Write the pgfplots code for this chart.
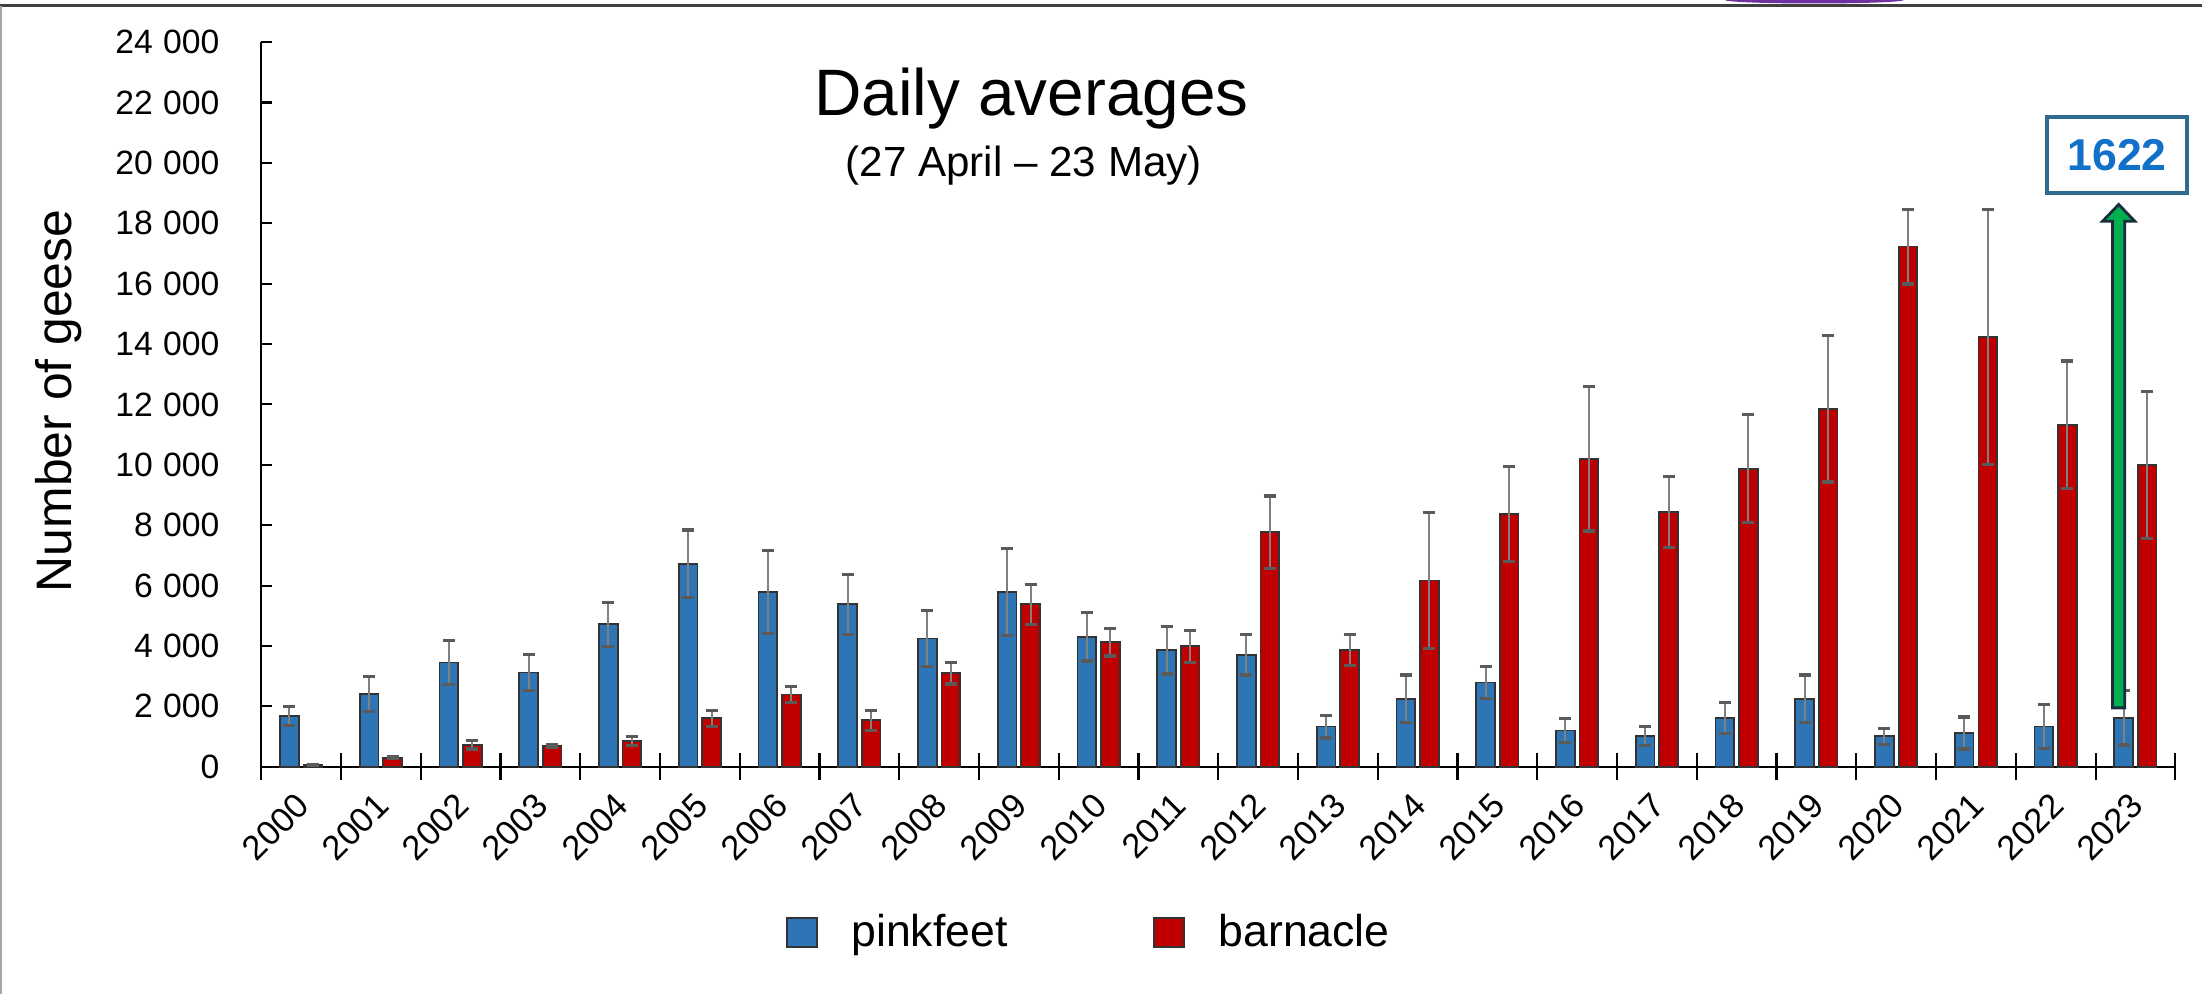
\documentclass[border=0pt]{standalone}
\usepackage{pgfplots}
\usepackage{pgfplotstable}
\pgfplotsset{compat=1.18}
\usepackage{fontspec}
\setmainfont{Liberation Sans}
\definecolor{pfblue}{RGB}{46,117,182}
\definecolor{bared}{RGB}{192,0,0}
\definecolor{errgray}{RGB}{128,128,128}
\definecolor{capgray}{RGB}{90,90,90}
\definecolor{boxblue}{RGB}{47,107,142}
\definecolor{numblue}{RGB}{17,112,200}
\definecolor{arrowgreen}{RGB}{0,176,80}
\definecolor{arrowdark}{RGB}{25,45,60}
\definecolor{purplec}{RGB}{112,48,160}
\newcommand{\ts}{\hspace{0.3em}}

\pgfplotstableread{
x p pe b be
0 1680 320 50 20
1 2400 580 300 40
2 3450 735 730 140
3 3120 590 690 60
4 4720 725 845 150
5 6720 1120 1610 265
6 5790 1380 2390 260
7 5380 1000 1540 335
8 4250 930 3100 360
9 5790 1450 5380 670
10 4310 810 4120 450
11 3860 790 3990 530
12 3710 670 7770 1200
13 1330 380 3860 510
14 2250 790 6170 2260
15 2790 520 8380 1570
16 1200 395 10200 2390
17 1010 310 8440 1170
18 1610 510 9870 1790
19 2250 790 11860 2430
20 1010 260 17230 1240
21 1120 530 14235 4235
22 1330 720 11330 2110
23 1622 900 10000 2430
}\geese

\begin{document}
\begin{tikzpicture}
\path[use as bounding box] (0,0) rectangle (627.2pt,283.2pt);
\fill[white] (0,0) rectangle (627.2pt,283.2pt);
\begin{axis}[
  at={(74.4pt,64.8pt)}, anchor=south west,
  scale only axis, width=545.2pt, height=206.4pt,
  ybar=1.4pt, bar width=5.3pt,
  xmin=-0.5, xmax=23.5, ymin=0, ymax=24000,
  axis x line=bottom, axis y line=left,
  axis line style={-, black, line width=0.6pt},
  clip=false,
  scaled y ticks=false,
  xtick={0,...,23},
  xticklabels={2000,2001,2002,2003,2004,2005,2006,2007,2008,2009,2010,2011,2012,2013,2014,2015,2016,2017,2018,2019,2020,2021,2022,2023},
  minor xtick={-0.5,0.5,...,23.5},
  major x tick style={draw=none},
  minor x tick style={black, line width=0.6pt},
  minor tick length=7.6pt,
  xtick align=center,
  ytick={0,2000,...,24000},
  yticklabels={0,2\ts000,4\ts000,6\ts000,8\ts000,10\ts000,12\ts000,14\ts000,16\ts000,18\ts000,20\ts000,22\ts000,24\ts000},
  ytick align=inside, major tick length=3pt,
  y tick style={black, line width=0.6pt},
  /pgf/number format/assume math mode=true,
  xticklabel style={rotate=45, anchor=north east, font=\fontsize{9.8}{11}\selectfont, yshift=1.1pt, xshift=-1.7pt},
  yticklabel style={font=\fontsize{9.6}{11}\selectfont, xshift=-8.4pt},
  ylabel={Number of geese},
  ylabel style={at={(axis description cs:-0.106,0.505)}, anchor=center, font=\fontsize{14.2}{16}\selectfont},
  legend style={at={(axis description cs:0.2737,-0.2287)}, anchor=west, draw=none, fill=none, inner sep=0pt,
    font=\fontsize{12.7}{15}\selectfont, /tikz/every even column/.append style={column sep=39.4pt}},
  legend columns=2,
  legend cell align=left,
]
\addplot[fill=pfblue, draw=black!80, line width=0.5pt,
  legend image code/.code={\draw[fill=pfblue, draw=black!80, line width=0.6pt] (0pt,-4.25pt) rectangle (8.5pt,4.25pt); \path[draw=none, fill=none] (0pt,0pt) -- (16.4pt,0pt);},
  error bars/.cd, y dir=both, y explicit,
  error bar style={errgray, line width=0.55pt},
  error mark options={rotate=90, mark size=1.7pt, line width=0.9pt, draw=capgray}]
  table[x=x, y=p, y error=pe] {\geese};
\addlegendentry{pinkfeet}
\addplot[fill=bared, draw=black!80, line width=0.5pt,
  legend image code/.code={\draw[fill=bared, draw=black!80, line width=0.6pt] (0pt,-4.25pt) rectangle (8.5pt,4.25pt); \path[draw=none, fill=none] (0pt,0pt) -- (16.4pt,0pt);},
  error bars/.cd, y dir=both, y explicit,
  error bar style={errgray, line width=0.55pt},
  error mark options={rotate=90, mark size=1.7pt, line width=0.9pt, draw=capgray}]
  table[x=x, y=b, y error=be] {\geese};
\addlegendentry{barnacle}
\draw[fill=arrowgreen, draw=arrowdark, line width=0.8pt]
  ([xshift=-1.75pt]axis cs:22.79,1950) --
  ([xshift=-1.75pt,yshift=-4.8pt]axis cs:22.79,18624) --
  ([xshift=-4.6pt,yshift=-4.8pt]axis cs:22.79,18624) --
  (axis cs:22.79,18624) --
  ([xshift=4.6pt,yshift=-4.8pt]axis cs:22.79,18624) --
  ([xshift=1.75pt,yshift=-4.8pt]axis cs:22.79,18624) --
  ([xshift=1.75pt]axis cs:22.79,1950) -- cycle;
\end{axis}
\node[anchor=base, font=\fontsize{18.7}{22}\selectfont] at (293.8pt,250.2pt) {Daily averages};
\node[anchor=base, font=\fontsize{12}{14}\selectfont] at (291.6pt,232.8pt) {(27 April – 23 May)};
\node[draw=boxblue, line width=1.1pt, minimum width=39.9pt, minimum height=21.7pt, inner sep=0pt,
  font=\bfseries\fontsize{12.7}{15}\selectfont, text=numblue] at (603pt,239.05pt) {1622};
\fill[purplec] (516.8pt,283.2pt) ellipse [x radius=25.5pt, y radius=1.0pt];
\draw[line width=0.7pt, black!75] (0pt,281.6pt) -- (627.2pt,281.6pt);
\draw[line width=0.4pt, black!35] (0.3pt,281.6pt) -- (0.3pt,0pt);
\end{tikzpicture}
\end{document}
